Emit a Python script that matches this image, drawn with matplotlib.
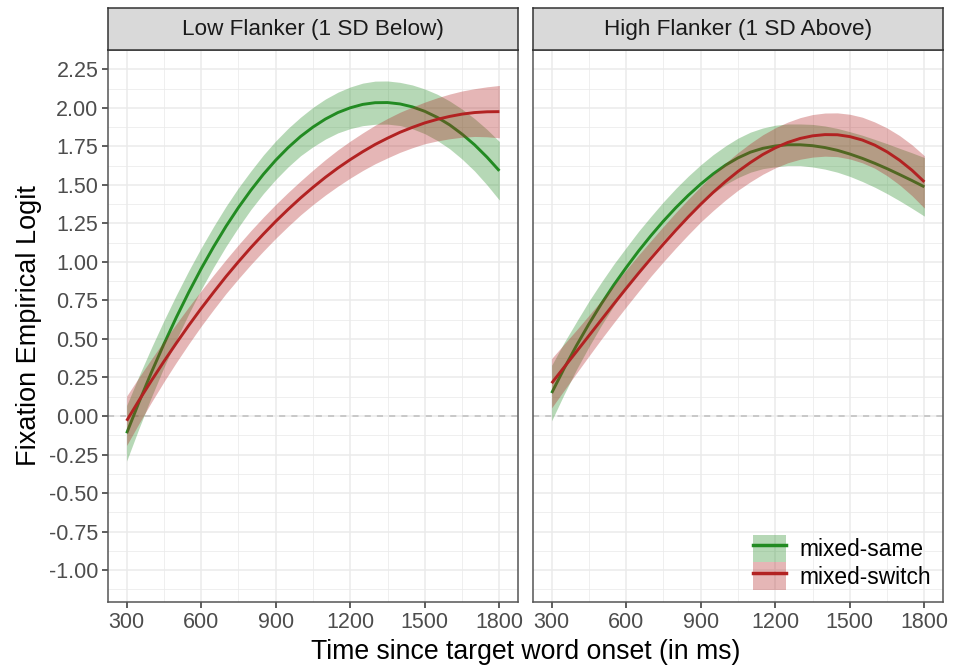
import numpy as np
import matplotlib.pyplot as plt
from matplotlib.patches import Patch
from matplotlib.lines import Line2D
from matplotlib.legend_handler import HandlerTuple

plt.rcParams['font.family'] = ['Liberation Sans', 'DejaVu Sans']

# time bins (ms), every 50 ms
time_ms = list(range(300, 1801, 50))

# low flanker panel: fitted logit and half-width of the ribbon
low_same = [-0.112, 0.091, 0.284, 0.467, 0.640, 0.803, 0.956, 1.098, 1.231, 1.353, 1.465,
            1.568, 1.660, 1.742, 1.814, 1.875, 1.927, 1.969, 2.000, 2.022, 2.033,
            2.034, 2.025, 2.006, 1.977, 1.938, 1.889, 1.829, 1.760, 1.680, 1.591]
low_same_ci = [0.18, 0.17, 0.16, 0.152, 0.145, 0.14, 0.135, 0.132, 0.13, 0.128, 0.125,
               0.125, 0.125, 0.125, 0.125, 0.128, 0.13, 0.132, 0.135, 0.138, 0.14,
               0.14, 0.14, 0.142, 0.145, 0.15, 0.155, 0.162, 0.17, 0.18, 0.19]
low_switch = [-0.031, 0.102, 0.230, 0.354, 0.473, 0.588, 0.698, 0.803, 0.905, 1.001, 1.093,
              1.180, 1.263, 1.341, 1.415, 1.484, 1.549, 1.609, 1.664, 1.715, 1.762,
              1.803, 1.841, 1.873, 1.902, 1.925, 1.944, 1.959, 1.969, 1.974, 1.975]
low_switch_ci = [0.16, 0.15, 0.14, 0.132, 0.125, 0.12, 0.115, 0.112, 0.11, 0.11, 0.11,
                 0.11, 0.11, 0.11, 0.11, 0.112, 0.115, 0.118, 0.12, 0.122, 0.125,
                 0.128, 0.13, 0.132, 0.135, 0.14, 0.145, 0.15, 0.155, 0.162, 0.17]

# high flanker panel
high_same = [0.149, 0.308, 0.457, 0.597, 0.728, 0.850, 0.963, 1.071, 1.171, 1.265, 1.352,
             1.432, 1.505, 1.571, 1.628, 1.675, 1.712, 1.737, 1.752, 1.760, 1.760,
             1.754, 1.742, 1.724, 1.700, 1.672, 1.640, 1.605, 1.567, 1.528, 1.487]
high_same_ci = [0.18, 0.168, 0.155, 0.148, 0.14, 0.135, 0.13, 0.128, 0.125, 0.125, 0.125,
                0.125, 0.125, 0.125, 0.125, 0.128, 0.13, 0.132, 0.135, 0.135, 0.135,
                0.138, 0.14, 0.142, 0.145, 0.15, 0.155, 0.162, 0.17, 0.18, 0.19]
high_switch = [0.213, 0.316, 0.418, 0.521, 0.624, 0.727, 0.828, 0.927, 1.023, 1.116, 1.206,
               1.292, 1.374, 1.451, 1.522, 1.587, 1.645, 1.697, 1.740, 1.775, 1.801,
               1.818, 1.826, 1.825, 1.813, 1.791, 1.758, 1.714, 1.660, 1.595, 1.519]
high_switch_ci = [0.16, 0.15, 0.14, 0.132, 0.125, 0.122, 0.12, 0.118, 0.115, 0.115, 0.115,
                  0.115, 0.115, 0.118, 0.12, 0.122, 0.125, 0.128, 0.13, 0.132, 0.135,
                  0.138, 0.14, 0.142, 0.145, 0.148, 0.15, 0.155, 0.16, 0.165, 0.17]

panel_titles = ["Low Flanker (1 SD Below)", "High Flanker (1 SD Above)"]
conditions = ["mixed-same", "mixed-switch"]
colors = ["#228B22", "#B22222"]

x_ticks = [300, 600, 900, 1200, 1500, 1800]
y_ticks = [-1.00, -0.75, -0.50, -0.25, 0.00, 0.25, 0.50, 0.75, 1.00, 1.25, 1.50, 1.75, 2.00, 2.25]

panels = [
    [(low_same, low_same_ci), (low_switch, low_switch_ci)],
    [(high_same, high_same_ci), (high_switch, high_switch_ci)],
]

W, H = 957, 667
fig = plt.figure(figsize=(W / 100, H / 100), dpi=100)

lefts = [108, 533]
pw = 410
top, bottom, strip_top = 50, 602, 8

axes = []
for k in range(2):
    ax = fig.add_axes([lefts[k] / W, (H - bottom) / H, pw / W, (bottom - top) / H])
    axes.append(ax)
    t = np.array(time_ms)
    for (fit, ci), col in zip(panels[k], colors):
        fit = np.array(fit)
        ci = np.array(ci)
        ax.fill_between(t, fit - ci, fit + ci, color=col, alpha=0.33, linewidth=0, zorder=3)
        ax.plot(t, fit, color=col, linewidth=2.1, zorder=3, solid_capstyle='butt')
    ax.axhline(0, color="#BEBEBE", linestyle=(0, (4, 4)), linewidth=1.1, zorder=2)

    ax.set_xlim(225, 1875)
    ax.set_ylim(-1.207, 2.367)
    ax.set_xticks(x_ticks)
    ax.set_xticks([450, 750, 1050, 1350, 1650], minor=True)
    ax.set_yticks(y_ticks)
    ax.set_yticks(np.arange(-1.125, 2.4, 0.25), minor=True)
    ax.set_yticklabels(["%.2f" % v for v in y_ticks])
    ax.grid(which='major', color="#EBEBEB", linewidth=1.1, zorder=0)
    ax.grid(which='minor', color="#EBEBEB", linewidth=0.55, zorder=0)
    ax.set_axisbelow(True)
    ax.tick_params(which='major', length=4, width=1.1, color="#333333",
                   labelsize=15.5, labelcolor="#4D4D4D", pad=3)
    ax.tick_params(which='minor', length=0)
    for s in ax.spines.values():
        s.set_color("#555555")
        s.set_linewidth(1.1)
    if k == 1:
        ax.tick_params(axis='y', left=False, labelleft=False)

    # facet strip
    sax = fig.add_axes([lefts[k] / W, (H - top) / H, pw / W, (top - strip_top) / H])
    sax.set_facecolor("#D9D9D9")
    sax.set_xticks([])
    sax.set_yticks([])
    for s in sax.spines.values():
        s.set_color("#333333")
        s.set_linewidth(1.1)
    sax.text(0.5, 0.48, panel_titles[k], ha='center', va='center',
             fontsize=16.2, color="#1A1A1A", transform=sax.transAxes)

axes[0].set_ylabel("Fixation Empirical Logit", fontsize=19.5, labelpad=5)
fig.text((108 + 943) / 2 / W, 1 - 652 / H, "Time since target word onset (in ms)",
         ha='center', va='center', fontsize=19.2)

# legend keys: ribbon swatch with the line drawn over it
handles = [(Patch(facecolor=c, alpha=0.33, linewidth=0), Line2D([], [], color=c, linewidth=2.5))
           for c in colors]
axes[1].legend(handles, conditions, handler_map={tuple: HandlerTuple(ndivide=1, pad=0)},
               loc='lower left', bbox_to_anchor=(753 / W, (H - 590) / H),
               bbox_transform=fig.transFigure, frameon=False, fontsize=16.4,
               handlelength=1.45, handleheight=1.49, labelspacing=0.0,
               handletextpad=0.57, borderpad=0, borderaxespad=0)

fig.savefig("out.png", dpi=100)
